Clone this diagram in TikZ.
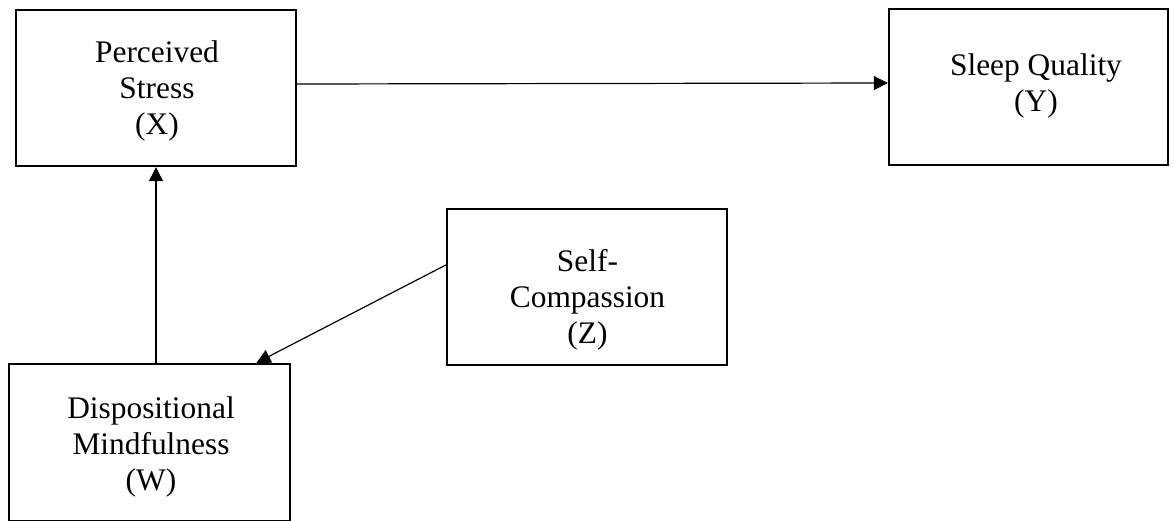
\documentclass[tikz,border=0pt]{standalone}
\usepackage{fontspec}
\setmainfont{Liberation Serif}
\usetikzlibrary{arrows.meta}

\begin{document}
\begin{tikzpicture}[x=1pt, y=-1pt,
  box/.style={draw, line width=2.4pt, rectangle, inner sep=0pt},
  boxtext/.style={align=center, inner sep=0pt,
    font=\fontsize{31.4}{36}\selectfont},
  link/.style={line width=1.2pt, -{Triangle[length=14pt, width=14pt]}}]
  \useasboundingbox (0,0) rectangle (1175,520);

  % variable boxes
  \node[box, minimum width=280pt, minimum height=156pt] (x) at (156,88) {};
  \node[box, minimum width=279pt, minimum height=156pt] (y) at (1028.5,87) {};
  \node[box, minimum width=280pt, minimum height=156pt] (z) at (587,287) {};
  \node[box, minimum width=281pt, minimum height=157pt] (w) at (149.5,442.5) {};

  % box labels
  \node[boxtext] (xt) at (157,91)   {Perceived\\Stress\\(X)};
  \node[boxtext] (yt) at (1036,86)  {Sleep Quality\\(Y)};
  \node[boxtext] (zt) at (587.5,300) {Self-\\Compassion\\(Z)};
  \node[boxtext] (wt) at (151,447)  {Dispositional\\Mindfulness\\(W)};

  % paths
  \draw[link] ([yshift=4pt]x.east) -- ([yshift=4pt]y.west);
  \draw[link] (x.south |- w.north) -- (x.south);
  \draw[link] ([yshift=22pt]z.west) -- ([xshift=107pt]w.north);
\end{tikzpicture}
\end{document}
